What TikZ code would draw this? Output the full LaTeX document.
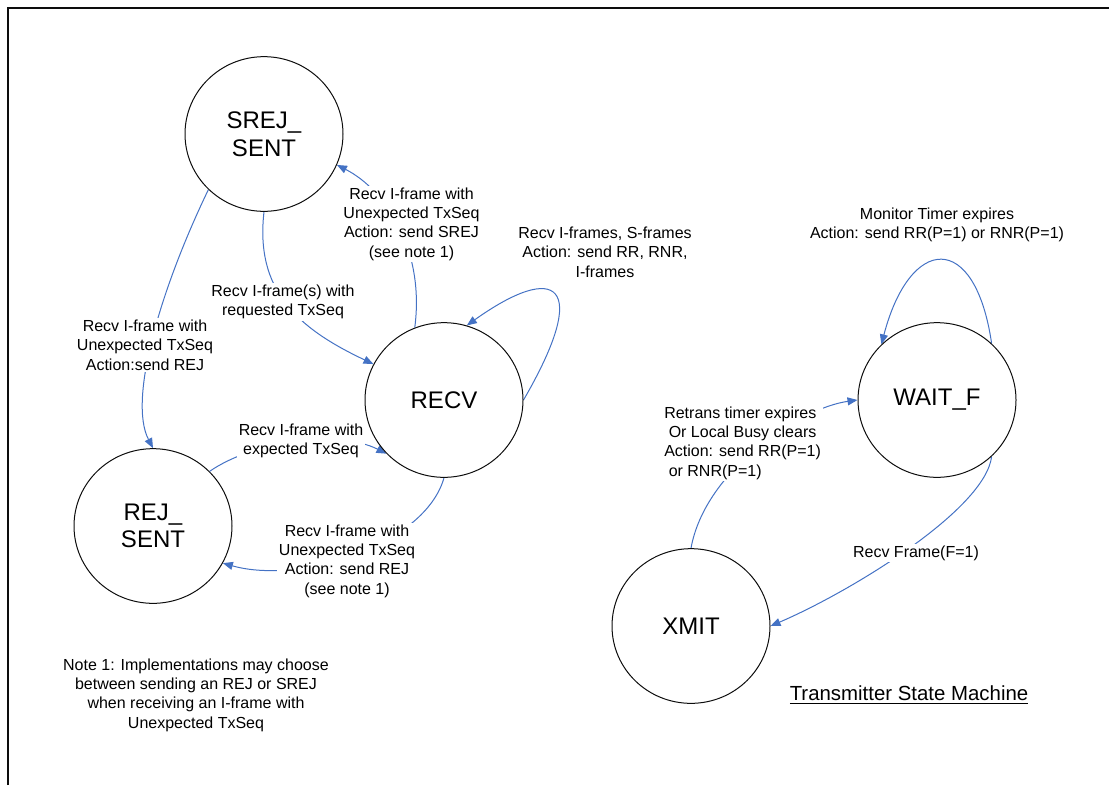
\documentclass[tikz,border=0pt]{standalone}
\usepackage{fontspec}
\setmainfont{Liberation Sans}
\usepackage{tikz}
\usetikzlibrary{arrows.meta,shapes.geometric,backgrounds}
\definecolor{ink}{gray}{0.05}
\definecolor{wire}{RGB}{68,114,196}
\tikzset{
  state/.style={ellipse, draw=ink, line width=0.75pt, inner sep=0pt, align=center,
                minimum width=118.5pt, minimum height=116pt, font=\fontsize{18}{20.7}\selectfont},
  flow/.style={-{Triangle[length=7.5pt,width=6pt]}, draw=wire, line width=0.75pt},
  lbl/.style={fill=white, inner sep=1.5pt, align=center, font=\fontsize{12}{14.5}\selectfont},
}

\begin{document}
\begin{tikzpicture}[x=0.75pt, y=-0.75pt]
    \useasboundingbox (0,0) rectangle (1109,785);
    \draw[ink, line width=1.5pt] (7.5,785) -- (7.5,7.5) -- (1109,7.5);

    \node[state] (srej) at (264,134) {SREJ\_\\SENT};
    \node[state] (recv) at (444,400) {RECV};
    \node[state] (rej)  at (153,526) {REJ\_\\SENT};
    \node[state] (wait) at (937,400) {WAIT\_F};
    \node[state] (xmit) at (691,626) {XMIT};

    \node[lbl] (unexpsrej) at (411.5,224) {Recv I-frame with\\Unexpected TxSeq\\Action: send SREJ\\(see note 1)};
    \node[lbl] (reqd)      at (283,302)   {Recv I-frame(s) with\\requested TxSeq};
    \node[lbl] (unexprej)  at (145,345)   {Recv I-frame with\\Unexpected TxSeq\\Action:send REJ};
    \node[lbl] (stay)      at (605,252)   {Recv I-frames, S-frames\\Action: send RR, RNR,\\I-frames};
    \node[lbl] (expd)      at (301,441)   {Recv I-frame with\\expected TxSeq};
    \node[lbl] (unexpback) at (347,561)   {Recv I-frame with\\Unexpected TxSeq\\Action: send REJ\\(see note 1)};
    \node[lbl] (note)      at (196,695)   {Note 1: Implementations may choose\\between sending an REJ or SREJ\\when receiving an I-frame with\\Unexpected TxSeq};
    \node[lbl] (monitor)   at (937,225)   {Monitor Timer expires\\Action: send RR(P=1) or RNR(P=1)};
    \node[lbl, align=left, anchor=west] (retrans) at (662,443)
        {Retrans timer expires\\\hspace*{.28em}Or Local Busy clears\\Action: send RR(P=1)\\\hspace*{.28em}or RNR(P=1)};
    \node[lbl] (final)     at (916,553)   {Recv Frame(F=1)};
    \node[lbl, font=\fontsize{15.3}{18}\selectfont] (title) at (909,695) {\underline{Transmitter State Machine}};

    \begin{scope}[on background layer]
    \draw[flow] (srej.225) .. controls (160,290) and (128,400) .. (rej.north);
    \draw[flow] (srej.south) .. controls (255,290) and (297,328) .. (recv.153);
    \draw[flow] (recv.112) .. controls (425,250) and (386,190) .. (srej.-23);
    \draw[flow] (recv.east) .. controls (592,282) and (556,262) .. (recv.73);
    \draw[flow] (rej.44) .. controls (255,440) and (340,430) .. (recv.223);
    \draw[flow] (recv.south) .. controls (425,545) and (300,585) .. (rej.-28);
    \draw[flow] (xmit.north) .. controls (705,470) and (800,408) .. (wait.west);
    \draw[flow] (wait.-46) .. controls (985,510) and (850,592) .. (xmit.east);
    \draw[flow] (wait.46) .. controls (975,230) and (910,235) .. (wait.135);
    \end{scope}
\end{tikzpicture}
\end{document}
